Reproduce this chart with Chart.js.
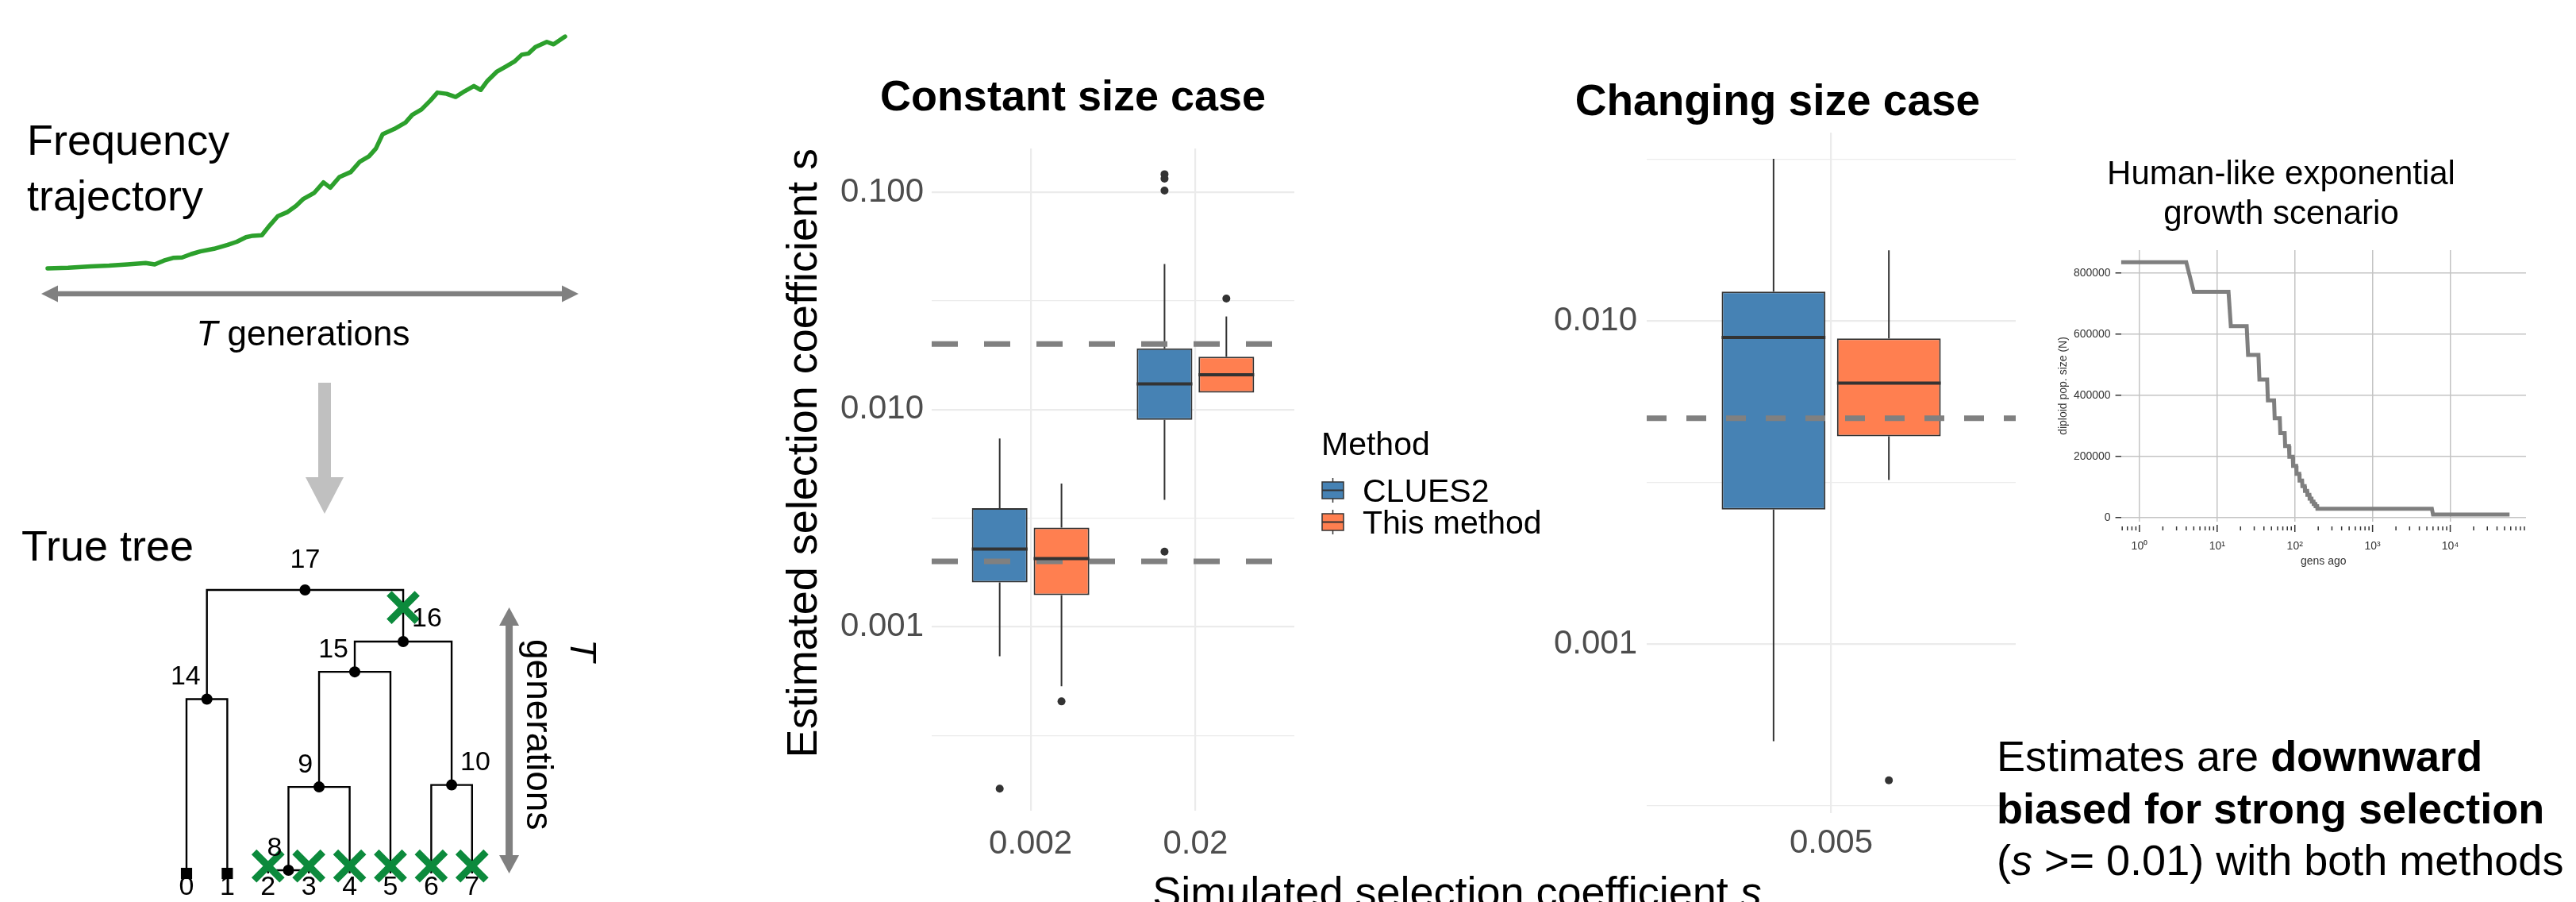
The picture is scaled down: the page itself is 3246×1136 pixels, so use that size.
<!DOCTYPE html>
<html><head><meta charset="utf-8">
<script src="https://cdn.jsdelivr.net/npm/chart.js@4.4.1/dist/chart.umd.min.js"></script>
<style>
html,body{margin:0;padding:0;background:#fff;}
body{width:3246px;height:1136px;position:relative;overflow:hidden;font-family:'Liberation Sans',Arial,Helvetica,sans-serif;color:#000;}
canvas{position:absolute;}
.t{position:absolute;white-space:nowrap;color:#000;}
</style></head><body>
<canvas id="traj" style="left:0;top:0" width="780" height="660"></canvas>
<canvas id="tree" style="left:0;top:640px" width="760" height="496"></canvas>
<canvas id="constChart" style="left:950px;top:60px" width="1020" height="1076"></canvas>
<canvas id="changeChart" style="left:1940px;top:60px" width="620" height="1076"></canvas>
<canvas id="inset" style="left:2566px;top:150px" width="680" height="580"></canvas>

<div class="t" style="left:34px;top:141px;font-size:54px;line-height:70px;">Frequency<br>trajectory</div>
<div class="t" style="left:182px;width:400px;text-align:center;top:398px;font-size:44px;line-height:44px;"><i>T</i> generations</div>
<div class="t" style="left:27px;top:660px;font-size:54px;line-height:54px;">True tree</div>
<div class="t" style="left:762px;top:805px;font-size:46px;line-height:55px;transform:rotate(90deg);transform-origin:0 0;"><i>T</i><br>generations</div>
<div class="t" style="left:1052px;width:600px;text-align:center;top:93px;font-size:54px;line-height:54px;font-weight:bold;">Constant size case</div>
<div class="t" style="left:1940px;width:600px;text-align:center;top:99px;font-size:55px;line-height:55px;font-weight:bold;">Changing size case</div>
<div class="t" style="left:1336px;width:1000px;text-align:center;top:1096px;font-size:54px;line-height:54px;">Simulated selection coefficient <i>s</i></div>
<div class="t" style="left:2516px;top:920px;font-size:54px;line-height:65.5px;">Estimates are <b>downward</b><br><b>biased for strong selection</b><br>(<i>s</i> &gt;= 0.01) with both methods</div>

<script>
// ---------------- DATA ----------------
// Frequency trajectory (generation, allele frequency)
const trajGen = [0,3.96,8.37,11.89,15.42,18.94,20.70,22.47,24.23,25.99,27.75,29.52,32.16,34.80,36.56,38.33,39.65,41.41,42.73,44.49,46.26,48.02,49.34,51.54,53.30,54.63,56.39,58.59,60.35,62.11,63.44,64.76,66.96,69.16,70.48,72.25,74.01,75.33,77.09,78.85,80.62,82.38,83.70,85.02,86.78,88.55,90.31,91.63,92.95,94.27,96.48,97.80,100];
const trajFreq = [0.020,0.022,0.028,0.031,0.036,0.042,0.036,0.052,0.063,0.065,0.079,0.090,0.101,0.117,0.130,0.149,0.155,0.157,0.193,0.236,0.252,0.279,0.306,0.333,0.376,0.354,0.398,0.419,0.462,0.484,0.516,0.576,0.597,0.624,0.656,0.678,0.716,0.748,0.743,0.730,0.754,0.775,0.759,0.797,0.834,0.856,0.878,0.905,0.910,0.937,0.958,0.948,0.980];

// True tree
const treeNodes  = [0,1,2,3,4,5,6,7,8,9,10,14,15,16,17];
const treeParent = [14,14,8,8,9,15,10,10,9,15,16,17,16,17,null];
const treeTime   = [0,0,0,0,0,0,0,0,1.1,30.5,31.2,61.5,71.1,81.8,100];
const squareLeaves = [0,1];
const mutationNodes = [2,3,4,5,6,7,16];
const mutationTimes = [2.6,2.6,2.6,2.6,2.6,2.6,93.8];

// Constant size case
const constCategories = ['0.002','0.02'];
const constTrueS = [0.002,0.02];
const constYTicks = [0.000316,0.001,0.00316,0.01,0.0316,0.1];
const constCluesLow  = [0.000733,0.00384];
const constCluesQ1   = [0.00160,0.00896];
const constCluesMed  = [0.00228,0.01313];
const constCluesQ3   = [0.00352,0.0191];
const constCluesHigh = [0.00736,0.0467];
const constCluesOut  = [[0.00018],[0.121,0.1155,0.1018,0.00222]];
const constThisLow   = [0.000533,0.01196];
const constThisQ1    = [0.00140,0.01196];
const constThisMed   = [0.00206,0.01445];
const constThisQ3    = [0.00286,0.0175];
const constThisHigh  = [0.00456,0.0268];
const constThisOut   = [[0.000454],[0.0324]];

// Changing size case
const changeCategories = ['0.005'];
const changeTrueS = [0.005];
const changeYTicks = [0.000316,0.001,0.00316,0.01,0.0316];
const changeCluesLow  = [0.000501];
const changeCluesQ1   = [0.00261];
const changeCluesMed  = [0.0089];
const changeCluesQ3   = [0.01233];
const changeCluesHigh = [0.0318];
const changeCluesOut  = [[]];
const changeThisLow   = [0.00322];
const changeThisQ1    = [0.00440];
const changeThisMed   = [0.00643];
const changeThisQ3    = [0.00883];
const changeThisHigh  = [0.01655];
const changeThisOut   = [[0.000379]];

const methodLabels = ['CLUES2','This method'];

// Inset: human-like exponential growth
const popGens  = [0.58,4,5,14,15,24,25,34,35,44,45,54,55,64,65,74,75,84,85,94,95,104,105,114,115,124,125,134,135,144,145,154,155,164,165,174,175,184,185,194,195,5800,6000,58000];
const popSizes = [835000,835000,738000,738000,626000,626000,532000,532000,451000,451000,383000,383000,325000,325000,276000,276000,234000,234000,199000,199000,169000,169000,143000,143000,121000,121000,103000,103000,87000,87000,74000,74000,62000,62000,52000,52000,44000,44000,37000,37000,29000,29000,10000,10000];
const popYTicks = [0,200000,400000,600000,800000];

// ---------------- SETUP ----------------
Chart.defaults.font.family = "'Liberation Sans', Arial, Helvetica, sans-serif";
Chart.defaults.animation = false;
Chart.defaults.plugins.legend.display = false;
Chart.defaults.plugins.tooltip.enabled = false;

function arrowHead(ctx, tx, ty, dx, dy, len, half) {
  const bx = tx - dx * len, by = ty - dy * len, px = -dy, py = dx;
  ctx.beginPath();
  ctx.moveTo(tx, ty);
  ctx.lineTo(bx + px * half, by + py * half);
  ctx.lineTo(bx - px * half, by - py * half);
  ctx.closePath();
  ctx.fill();
}

// ---------------- TRAJECTORY ----------------
const trajArrows = {
  id: 'trajArrows',
  afterDraw(chart) {
    const ctx = chart.ctx, a = chart.chartArea;
    ctx.save();
    const y = a.bottom + 26, x1 = a.left - 8, x2 = a.right + 17;
    ctx.fillStyle = '#808080'; ctx.strokeStyle = '#808080'; ctx.lineWidth = 6.5;
    ctx.beginPath(); ctx.moveTo(x1 + 18, y); ctx.lineTo(x2 - 18, y); ctx.stroke();
    arrowHead(ctx, x1, y, -1, 0, 21, 10.5);
    arrowHead(ctx, x2, y, 1, 0, 21, 10.5);
    ctx.fillStyle = '#c0c0c0';
    ctx.fillRect(401, 482, 16, 120);
    arrowHead(ctx, 409, 647, 0, 1, 46, 24);
    ctx.restore();
  }
};
new Chart(document.getElementById('traj'), {
  type: 'line',
  data: { datasets: [{ data: trajGen.map((g, i) => ({ x: g, y: trajFreq[i] })), borderColor: '#2ca02c', borderWidth: 5.5, pointRadius: 0, tension: 0, borderJoinStyle: 'round', borderCapStyle: 'round', clip: false }] },
  options: {
    responsive: false, devicePixelRatio: 1,
    layout: { autoPadding: false, padding: { left: 60, right: 68, top: 40, bottom: 316 } },
    scales: { x: { type: 'linear', min: 0, max: 100, display: false }, y: { type: 'linear', min: 0, max: 1, display: false } }
  },
  plugins: [trajArrows]
});

// ---------------- TREE ----------------
const nX = {}, nT = {};
let leafOrder = 0;
treeNodes.forEach((n, i) => {
  nT[n] = treeTime[i];
  const kids = treeNodes.filter((m, j) => treeParent[j] === n);
  nX[n] = kids.length ? kids.reduce((s, k) => s + nX[k], 0) / kids.length : leafOrder++;
});
const branchSets = [];
treeNodes.forEach((n) => {
  const kids = treeNodes.filter((m, j) => treeParent[j] === n).sort((p, q) => nX[p] - nX[q]);
  if (kids.length === 2) {
    const [c1, c2] = kids;
    branchSets.push({ type: 'scatter', showLine: true, data: [{ x: nX[c1], y: nT[c1] }, { x: nX[c1], y: nT[n] }, { x: nX[c2], y: nT[n] }, { x: nX[c2], y: nT[c2] }], borderColor: '#000', borderWidth: 2.4, pointRadius: 0, order: 5, clip: false });
  }
});
const internalNodes = treeNodes.filter(n => treeParent.includes(n));
const treeLabels = {
  id: 'treeLabels',
  afterDraw(chart) {
    const ctx = chart.ctx, xs = chart.scales.x, ys = chart.scales.y;
    ctx.save();
    ctx.fillStyle = '#000'; ctx.font = "34px 'Liberation Sans', Arial, sans-serif";
    internalNodes.forEach(n => {
      const px = xs.getPixelForValue(nX[n]), py = ys.getPixelForValue(nT[n]);
      if (n === 17) { ctx.textAlign = 'center'; ctx.fillText(String(n), px, py - 28); }
      else if (n === 16 || n === 10) { ctx.textAlign = 'left'; ctx.fillText(String(n), px + 11, py - 19); }
      else { ctx.textAlign = 'right'; ctx.fillText(String(n), px - 8, py - 18); }
    });
    ctx.textAlign = 'center';
    treeNodes.filter(n => !treeParent.includes(n)).forEach(n => {
      ctx.fillText(String(n), xs.getPixelForValue(nX[n]), ys.getPixelForValue(0) + 27);
    });
    const ax = xs.getPixelForValue(leafOrder - 1 + 0.91);
    const yTop = ys.getPixelForValue(Math.max(...mutationTimes)), yBot = ys.getPixelForValue(0);
    ctx.fillStyle = '#808080'; ctx.strokeStyle = '#808080'; ctx.lineWidth = 9;
    ctx.beginPath(); ctx.moveTo(ax, yTop + 20); ctx.lineTo(ax, yBot - 20); ctx.stroke();
    arrowHead(ctx, ax, yTop, 0, -1, 23, 12.5);
    arrowHead(ctx, ax, yBot, 0, 1, 23, 12.5);
    ctx.restore();
  }
};
new Chart(document.getElementById('tree'), {
  type: 'scatter',
  data: {
    datasets: [
      ...branchSets,
      { data: internalNodes.map(n => ({ x: nX[n], y: nT[n] })), pointRadius: 7, backgroundColor: '#000', borderWidth: 0, order: 3, clip: false },
      { data: squareLeaves.map(n => ({ x: nX[n], y: 0 })), pointStyle: 'rect', pointRadius: 10, backgroundColor: '#000', borderWidth: 0, order: 2, clip: false },
      { data: mutationNodes.map((n, i) => ({ x: nX[n], y: mutationTimes[i] })), pointStyle: 'crossRot', pointRadius: 25, borderColor: '#0c8a3c', backgroundColor: '#0c8a3c', borderWidth: 9, order: 1, clip: false }
    ]
  },
  options: {
    responsive: false, devicePixelRatio: 1,
    layout: { autoPadding: false, padding: { left: 183.6, right: 62.4, top: 88.7, bottom: 7.44 } },
    scales: { x: { type: 'linear', min: -1, max: 9, display: false }, y: { type: 'linear', min: -8, max: 104, display: false } }
  },
  plugins: [treeLabels]
});

// ---------------- BOXPLOTS ----------------
const isDecade = v => Math.abs(Math.log10(v) - Math.round(Math.log10(v))) < 0.01;
const boxDecor = {
  id: 'boxDecor',
  beforeDatasetsDraw(chart, args, o) {
    const ctx = chart.ctx, y = chart.scales.y;
    ctx.save(); ctx.strokeStyle = '#333333'; ctx.lineWidth = 2;
    o.series.forEach((s, si) => {
      chart.getDatasetMeta(si).data.forEach((el, i) => {
        const x = el.x;
        ctx.beginPath();
        ctx.moveTo(x, y.getPixelForValue(s.q3[i])); ctx.lineTo(x, y.getPixelForValue(s.high[i]));
        ctx.moveTo(x, y.getPixelForValue(s.q1[i])); ctx.lineTo(x, y.getPixelForValue(s.low[i]));
        ctx.stroke();
      });
    });
    ctx.restore();
  },
  afterDatasetsDraw(chart, args, o) {
    const ctx = chart.ctx, y = chart.scales.y, a = chart.chartArea;
    ctx.save();
    ctx.beginPath(); ctx.rect(a.left, a.top, a.right - a.left, a.bottom - a.top); ctx.clip();
    ctx.strokeStyle = '#808080'; ctx.lineWidth = 7; ctx.setLineDash(o.dash);
    o.trueS.forEach(v => {
      const py = y.getPixelForValue(v);
      ctx.beginPath(); ctx.moveTo(a.left, py); ctx.lineTo(a.right, py); ctx.stroke();
    });
    ctx.setLineDash([]);
    ctx.strokeStyle = '#333333'; ctx.lineWidth = 4;
    o.series.forEach((s, si) => {
      chart.getDatasetMeta(si).data.forEach((el, i) => {
        const py = y.getPixelForValue(s.med[i]);
        ctx.beginPath(); ctx.moveTo(el.x - el.width / 2, py); ctx.lineTo(el.x + el.width / 2, py); ctx.stroke();
      });
    });
    ctx.restore();
    if (o.legend) {
      ctx.save();
      ctx.fillStyle = '#000'; ctx.textAlign = 'left';
      ctx.font = "41px 'Liberation Sans', Arial, sans-serif";
      ctx.fillText('Method', 715, 513);
      o.series.forEach((s, si) => {
        const top = 547 + si * 40;
        ctx.strokeStyle = '#333333'; ctx.lineWidth = 1.5;
        ctx.beginPath(); ctx.moveTo(729.5, top - 5); ctx.lineTo(729.5, top + 26); ctx.stroke();
        ctx.fillStyle = s.color; ctx.fillRect(716, top, 27, 21);
        ctx.strokeRect(716, top, 27, 21);
        ctx.lineWidth = 2; ctx.beginPath(); ctx.moveTo(716, top + 10.5); ctx.lineTo(743, top + 10.5); ctx.stroke();
        ctx.fillStyle = '#000';
        ctx.fillText(s.label, 767, top + 25);
      });
      ctx.restore();
    }
  }
};

function makeBoxChart(id, p) {
  const dodge = 0.75 / 4;
  const datasets = [];
  p.series.forEach(s => {
    datasets.push({ type: 'bar', label: s.label, data: p.categories.map((c, i) => ({ x: i + 1, y: [s.q1[i], s.q3[i]] })), backgroundColor: s.color, borderColor: '#333333', borderWidth: 2, borderSkipped: false, grouped: true, categoryPercentage: p.catPct, barPercentage: 0.9, order: 2 });
  });
  p.series.forEach((s, si) => {
    const pts = [];
    s.out.forEach((arr, i) => arr.forEach(v => pts.push({ x: i + 1 + (si === 0 ? -dodge : dodge), y: v })));
    datasets.push({ type: 'scatter', data: pts, pointRadius: 5, backgroundColor: '#333333', borderWidth: 0, order: 1 });
  });
  return new Chart(document.getElementById(id), {
    type: 'bar',
    data: { datasets },
    options: {
      responsive: false, devicePixelRatio: 1,
      layout: { autoPadding: false, padding: { left: 0, right: p.padRight, top: p.padTop, bottom: 0 } },
      scales: {
        x: {
          type: 'linear', min: 0.4, max: p.categories.length + 0.6, offset: false,
          afterBuildTicks: s => { s.ticks = p.categories.map((c, i) => ({ value: i + 1 })); },
          afterFit: s => { s.height = p.axisHeight; },
          ticks: { callback: v => p.categories[Math.round(v) - 1] ?? '', color: '#4d4d4d', font: { size: 42 }, padding: p.tickPadX, autoSkip: false, maxRotation: 0 },
          grid: { color: '#ebebeb', lineWidth: 2.2, drawTicks: false, offset: false },
          border: { display: false }
        },
        y: {
          type: 'logarithmic', min: p.yMin, max: p.yMax,
          afterBuildTicks: s => { s.ticks = p.yTicks.map(v => ({ value: v })); },
          afterFit: s => { s.width = p.axisWidth; },
          ticks: { callback: v => isDecade(v) ? Number(v).toFixed(3) : '', color: '#4d4d4d', font: { size: 42 }, padding: p.tickPadY, autoSkip: false },
          grid: { color: '#ebebeb', lineWidth: c => (c.tick && isDecade(c.tick.value)) ? 2.2 : 1.2, drawTicks: false },
          border: { display: false },
          title: p.yTitle ? { display: true, text: p.yTitle, align: 'end', color: '#000', font: { size: 54 }, padding: { top: 32, bottom: 0 } } : { display: false }
        }
      },
      plugins: { boxDecor: { series: p.series, trueS: p.trueS, dash: p.dash, legend: p.legend } }
    },
    plugins: [boxDecor]
  });
}

makeBoxChart('constChart', {
  categories: constCategories, trueS: constTrueS, yTicks: constYTicks,
  yMin: 0.0001426, yMax: 0.1589, catPct: 0.75,
  padRight: 339, padTop: 127, axisWidth: 224, axisHeight: 115, tickPadX: 17, tickPadY: 10,
  dash: [33, 33], legend: true, yTitle: 'Estimated selection coefficient s',
  series: [
    { label: methodLabels[0], color: '#4682B4', low: constCluesLow, q1: constCluesQ1, med: constCluesMed, q3: constCluesQ3, high: constCluesHigh, out: constCluesOut },
    { label: methodLabels[1], color: '#FF7F50', low: constThisLow, q1: constThisQ1, med: constThisMed, q3: constThisQ3, high: constThisHigh, out: constThisOut }
  ]
});

makeBoxChart('changeChart', {
  categories: changeCategories, trueS: changeTrueS, yTicks: changeYTicks,
  yMin: 0.000304, yMax: 0.03832, catPct: 0.625,
  padRight: 20, padTop: 107, axisWidth: 135, axisHeight: 112, tickPadX: 13, tickPadY: 12,
  dash: [25, 25], legend: false, yTitle: null,
  series: [
    { label: methodLabels[0], color: '#4682B4', low: changeCluesLow, q1: changeCluesQ1, med: changeCluesMed, q3: changeCluesQ3, high: changeCluesHigh, out: changeCluesOut },
    { label: methodLabels[1], color: '#FF7F50', low: changeThisLow, q1: changeThisQ1, med: changeThisMed, q3: changeThisQ3, high: changeThisHigh, out: changeThisOut }
  ]
});

// ---------------- INSET ----------------
const supDigits = { '-': '\u207B', '0': '\u2070', '1': '\u00B9', '2': '\u00B2', '3': '\u00B3', '4': '\u2074', '5': '\u2075', '6': '\u2076', '7': '\u2077', '8': '\u2078', '9': '\u2079' };
const xTickMarks = {
  id: 'xTickMarks',
  afterDraw(chart) {
    const ctx = chart.ctx, xs = chart.scales.x, b = chart.chartArea.bottom;
    ctx.save(); ctx.strokeStyle = '#333'; ctx.lineWidth = 1.5;
    xs.ticks.forEach(t => {
      const px = xs.getPixelForValue(t.value), major = isDecade(t.value);
      ctx.beginPath(); ctx.moveTo(px, b + (major ? 4 : 6)); ctx.lineTo(px, b + (major ? 13 : 11)); ctx.stroke();
    });
    ctx.restore();
  }
};
new Chart(document.getElementById('inset'), {
  type: 'line',
  data: { datasets: [{ data: popGens.map((g, i) => ({ x: g, y: popSizes[i] })), borderColor: '#7f7f7f', borderWidth: 5, pointRadius: 0, tension: 0 }] },
  options: {
    responsive: false, devicePixelRatio: 1,
    layout: { autoPadding: false, padding: { left: 0, right: 63, top: 0, bottom: 0 } },
    plugins: {
      title: { display: true, text: ['Human-like exponential', 'growth scenario'], color: '#000', font: { size: 42, weight: 'normal', lineHeight: 1.2 }, padding: { top: 44.8, bottom: 19.4 } }
    },
    scales: {
      x: {
        type: 'logarithmic', min: 0.578, max: 94400,
        afterBuildTicks: s => {
          const t = [];
          for (let e = -1; e <= 4; e++) for (let m = 1; m <= 9; m++) { const v = m * Math.pow(10, e); if (v >= s.min && v <= s.max) t.push({ value: v }); }
          s.ticks = t;
        },
        afterFit: s => { s.height = 73; },
        ticks: { callback: v => isDecade(v) ? '10' + String(Math.round(Math.log10(v))).split('').map(c => supDigits[c]).join('') : '', color: '#333', font: { size: 14 }, padding: 22.6, autoSkip: false, maxRotation: 0 },
        grid: { color: c => (c.tick && isDecade(c.tick.value)) ? '#c4c4c4' : 'rgba(0,0,0,0)', lineWidth: 1.5, drawTicks: false },
        border: { display: false },
        title: { display: true, text: 'gens ago', color: '#333', font: { size: 14 }, padding: { top: 0, bottom: 14 } }
      },
      y: {
        type: 'linear', min: -13500, max: 874600,
        afterBuildTicks: s => { s.ticks = popYTicks.map(v => ({ value: v })); },
        afterFit: s => { s.width = 106.6; },
        ticks: { callback: v => String(v), color: '#333', font: { size: 14 }, padding: 6 },
        grid: { color: '#c4c4c4', lineWidth: 1.5, tickLength: 7, tickColor: '#333', tickWidth: 1.5 },
        border: { display: false },
        title: { display: true, text: 'diploid pop. size (N)', color: '#333', font: { size: 14 }, padding: { top: 25.6, bottom: 0 } }
      }
    }
  },
  plugins: [xTickMarks]
});
</script>
</body></html>
